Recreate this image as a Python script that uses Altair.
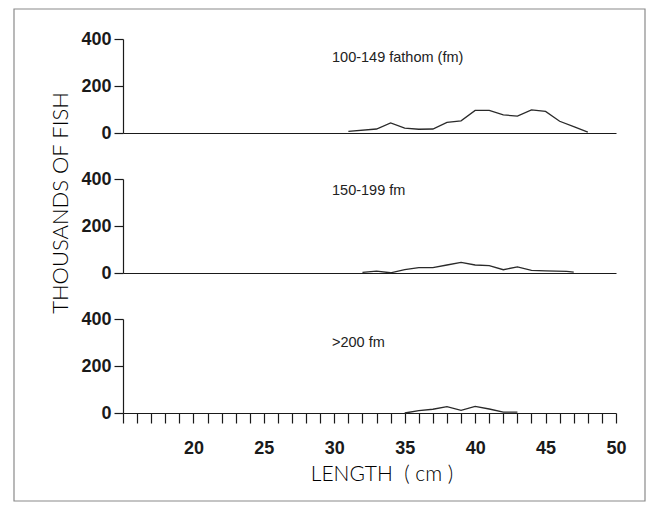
import altair as alt
import pandas as pd

# ---- data ----
length_top = [31, 33, 34, 35, 36, 37, 38, 39, 40, 41, 42, 43, 44, 45, 46, 47, 48]
fish_top = [7, 17, 43, 21, 16, 17, 45, 52, 96, 96, 77, 72, 98, 92, 50, 27, 4]

length_mid = [32, 33, 34, 35, 36, 37, 38, 39, 40, 41, 42, 43, 44, 45, 46.5, 47]
fish_mid = [3, 8, 1, 14, 23, 23, 34, 45, 34, 31, 14, 26, 11, 9, 7, 4]

length_low = [35, 36, 37, 38, 39, 40, 41, 42, 43]
fish_low = [0, 10, 16, 27, 11, 28, 17, 4, 4]

panel_labels = ["100-149 fathom (fm)", "150-199 fm", ">200 fm"]
y_tick_values = [0, 200, 400]
x_tick_values = list(range(15, 51))
y_title = ["THOUSANDS OF FISH"]
x_title = ["LENGTH\u00a0\u00a0(\u00a0cm\u00a0)"]

W, H = 493, 94
INK = "#1a1a1a"
LABEL_FONT = "Liberation Sans"
TITLE_FONT = "Lato"

x_scale = alt.Scale(domain=[15, 50], nice=False, zero=False)
y_scale = alt.Scale(domain=[0, 400], nice=False)

y_axis = alt.Axis(values=y_tick_values, tickSize=9, labelPadding=3,
                  labelFont=LABEL_FONT, labelFontWeight="bold", labelFontSize=18,
                  labelColor=INK, title=None, grid=False, labelFlush=False)


def line_layer(lengths, fish, bottom):
    df = pd.DataFrame({"length": lengths, "fish": fish})
    if bottom:
        x_axis = alt.Axis(values=x_tick_values, tickSize=10, labelPadding=16,
                          labelExpr="datum.value % 5 == 0 && datum.value >= 20 ? datum.label : ''",
                          labelOverlap=False, labelFlush=False,
                          labelFont=LABEL_FONT, labelFontWeight="bold", labelFontSize=18,
                          labelColor=INK, title=None, grid=False)
    else:
        x_axis = alt.Axis(labels=False, ticks=False, title=None, grid=False)
    return alt.Chart(df).mark_line(color="#2a2a2a", strokeWidth=1.3).encode(
        x=alt.X("length:Q", scale=x_scale, axis=x_axis),
        y=alt.Y("fish:Q", scale=y_scale, axis=y_axis),
    )


def label_layer(text, py):
    return alt.Chart(pd.DataFrame({"t": [text]})).mark_text(
        align="left", baseline="middle", font=LABEL_FONT, fontSize=14.5, color="#222"
    ).encode(x=alt.value(209), y=alt.value(py), text="t:N")


frame = alt.Chart(pd.DataFrame({"a": [0]})).mark_rect(
    fillOpacity=0, stroke="#8a8a8a", strokeWidth=1.2
).encode(x=alt.value(-109), x2=alt.value(522), y=alt.value(-30), y2=alt.value(462))

ytitle = alt.Chart(pd.DataFrame({"t": y_title})).mark_text(
    angle=270, align="center", baseline="middle", font=TITLE_FONT, fontWeight=300,
    fontSize=22, color="#000"
).encode(x=alt.value(-62), y=alt.value(24), text="t:N")

xtitle = alt.Chart(pd.DataFrame({"t": x_title})).mark_text(
    align="center", baseline="middle", font=TITLE_FONT, fontWeight=300,
    fontSize=21, color="#000"
).encode(x=alt.value(259), y=alt.value(156), text="t:N")

top = alt.layer(frame, line_layer(length_top, fish_top, False),
                label_layer(panel_labels[0], 19)).properties(width=W, height=H)
mid = alt.layer(line_layer(length_mid, fish_mid, False),
                label_layer(panel_labels[1], 12), ytitle).properties(width=W, height=H)
low = alt.layer(line_layer(length_low, fish_low, True),
                label_layer(panel_labels[2], 24), xtitle).properties(width=W, height=H)

chart = alt.vconcat(top, mid, low, spacing=46, bounds="flush").properties(
    padding={"left": 5, "top": 0, "right": 0, "bottom": 0}
).configure_view(stroke=None).configure_axis(
    domainColor=INK, tickColor=INK, domainWidth=1.2, tickWidth=1.2
)

chart.save("out.html", embed_options={"renderer": "svg", "actions": False})
